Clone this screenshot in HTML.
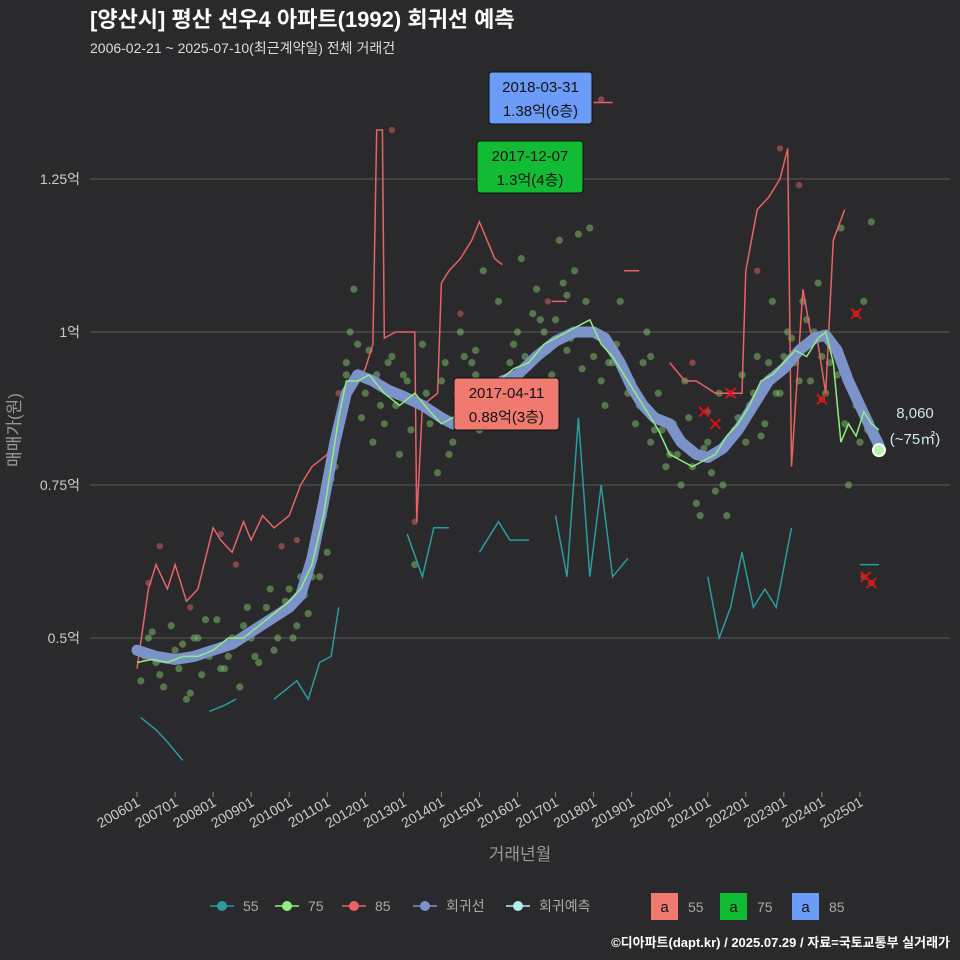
<!DOCTYPE html>
<html><head><meta charset="utf-8">
<style>
html,body{margin:0;padding:0;background:#2a292b;}
svg{display:block;font-family:"Liberation Sans","Noto Sans CJK KR",sans-serif;}
</style></head>
<body>
<svg id="chart" width="960" height="960" viewBox="0 0 960 960">
<rect width="960" height="960" fill="#2a292b"/>
<text x="90" y="27" fill="#ffffff" font-size="22" font-weight="bold">[양산시] 평산 선우4 아파트(1992) 회귀선 예측</text>
<text x="90" y="53" fill="#dddddd" font-size="14">2006-02-21 ~ 2025-07-10(최근계약일) 전체 거래건</text>
<g id="grid"></g>
<g id="yaxis"></g>
<g id="xaxis"></g>
<g id="plot"></g>
<text x="20" y="430" fill="#999" font-size="17" transform="rotate(-90 20 430)" text-anchor="middle">매매가(원)</text>
<text x="520" y="860" fill="#999" font-size="17" text-anchor="middle">거래년월</text>
<g id="legend"></g>
<text x="950" y="947" fill="#ffffff" font-size="13" font-weight="bold" text-anchor="end">©디아파트(dapt.kr) / 2025.07.29 / 자료=국토교통부 실거래가</text>
</svg>
<script>
const yTicks=[0.5,0.75,1,1.25];
const yTickLabels=["0.5억","0.75억","1억","1.25억"];
const xTickYears=[2006,2007,2008,2009,2010,2011,2012,2013,2014,2015,2016,2017,2018,2019,2020,2021,2022,2023,2024,2025];
const xTickLabels=["200601","200701","200801","200901","201001","201101","201201","201301","201401","201501","201601","201701","201801","201901","202001","202101","202201","202301","202401","202501"];
const regT=[2006,2006.5,2007,2007.5,2008,2008.5,2009,2009.5,2010,2010.3,2010.6,2010.9,2011.2,2011.5,2011.8,2012.2,2012.6,2013,2013.5,2014,2014.3,2014.7,2015.2,2015.6,2016,2016.5,2017,2017.5,2018,2018.3,2018.7,2019,2019.3,2019.6,2020,2020.3,2020.7,2021,2021.4,2021.8,2022.2,2022.6,2023,2023.4,2023.8,2024.1,2024.4,2024.7,2025,2025.3,2025.5];
const regV=[0.48,0.47,0.465,0.47,0.48,0.49,0.51,0.53,0.55,0.57,0.63,0.72,0.82,0.9,0.93,0.92,0.905,0.895,0.88,0.86,0.85,0.87,0.9,0.92,0.93,0.96,0.985,1.0,1.0,0.99,0.95,0.91,0.88,0.86,0.85,0.82,0.8,0.795,0.81,0.84,0.88,0.92,0.94,0.97,0.99,0.995,0.97,0.92,0.88,0.84,0.815];
const s75T=[2006,2006.4,2006.8,2007.2,2007.6,2008,2008.4,2008.8,2009.2,2009.6,2010,2010.3,2010.6,2010.9,2011.1,2011.3,2011.5,2011.8,2012.1,2012.5,2012.9,2013.3,2013.7,2014,2014.3,2014.7,2015.1,2015.5,2015.9,2016.3,2016.7,2017,2017.3,2017.6,2017.9,2018.2,2018.5,2018.8,2019.1,2019.4,2019.7,2020,2020.3,2020.6,2020.9,2021.2,2021.5,2021.8,2022.1,2022.4,2022.7,2023,2023.3,2023.6,2023.9,2024.1,2024.3,2024.5,2024.7,2024.9,2025.1,2025.3,2025.5];
const s75V=[0.46,0.465,0.46,0.47,0.47,0.48,0.5,0.5,0.52,0.54,0.56,0.58,0.62,0.7,0.78,0.86,0.92,0.92,0.93,0.9,0.88,0.9,0.87,0.85,0.86,0.89,0.91,0.92,0.94,0.95,0.98,0.99,1.0,1.01,1.02,0.98,0.96,0.93,0.9,0.87,0.84,0.8,0.79,0.78,0.79,0.8,0.83,0.85,0.88,0.92,0.93,0.95,0.97,0.96,0.99,1.0,0.95,0.82,0.85,0.83,0.87,0.85,0.84];
const s85T=[2006,2006.3,2006.5,2006.8,2007,2007.3,2007.6,2008,2008.2,2008.5,2008.8,2009,2009.3,2009.6,2010,2010.3,2010.6,2011,2011.3,2011.6,2012,2012.2,2012.3,2012.45,2012.5,2012.8,2013,2013.3,2013.35,2013.5,2013.9,2014,2014.2,2014.5,2014.8,2015,2015.2,2015.4,2015.6,null,2016.9,2017.3,null,2018.0,2018.5,null,2018.8,2019.2,null,2020,2020.4,2020.7,2021.2,2021.6,2021.9,2022,2022.3,2022.6,2022.9,2023.1,2023.2,2023.5,2023.7,2023.9,2024.1,2024.3,2024.6];
const s85V=[0.45,0.58,0.62,0.58,0.62,0.56,0.58,0.68,0.66,0.64,0.69,0.66,0.7,0.68,0.7,0.75,0.78,0.8,0.85,0.9,0.94,0.98,1.33,1.33,0.99,1.0,1.0,1.0,0.69,0.88,0.9,1.08,1.1,1.12,1.15,1.18,1.15,1.12,1.11,null,1.05,1.05,null,1.375,1.375,null,1.1,1.1,null,0.95,0.92,0.92,0.9,0.9,0.9,1.1,1.2,1.22,1.25,1.3,0.78,1.07,1.0,0.98,0.9,1.15,1.2];
const s55T=[2006.1,2006.5,2006.8,2007.2,null,2007.9,2008.3,2008.6,null,2009.6,2010.2,2010.5,2010.8,2011.1,2011.3,null,2013.1,2013.5,2013.8,2014.2,null,2015,2015.5,2015.8,2016.3,null,2017,2017.3,2017.6,2017.9,2018.2,2018.5,2018.9,null,2021,2021.3,2021.6,2021.9,2022.2,2022.5,2022.8,2023.2,null,2025.0,2025.5];
const s55V=[0.37,0.35,0.33,0.3,null,0.38,0.39,0.4,null,0.4,0.43,0.4,0.46,0.47,0.55,null,0.67,0.6,0.68,0.68,null,0.64,0.69,0.66,0.66,null,0.7,0.6,0.86,0.6,0.75,0.6,0.63,null,0.6,0.5,0.55,0.64,0.55,0.58,0.55,0.68,null,0.62,0.62];
const ptT=[2006.1,2006.3,2006.5,2006.7,2006.9,2007.1,2007.3,2007.5,2007.7,2007.9,2008.1,2008.3,2008.5,2008.7,2008.9,2009.1,2009.3,2009.5,2009.7,2009.9,2010.1,2010.3,2010.5,2010.7,2010.9,2011.1,2011.3,2011.5,2011.7,2011.9,2012.1,2012.3,2012.5,2012.7,2012.9,2013.1,2013.3,2013.5,2013.7,2013.9,2014.1,2014.3,2014.5,2014.7,2014.9,2015.1,2015.3,2015.5,2015.7,2015.9,2016.1,2016.3,2016.5,2016.7,2016.9,2017.1,2017.3,2017.5,2017.7,2017.9,2018.1,2018.3,2018.5,2018.7,2018.9,2019.1,2019.3,2019.5,2019.7,2019.9,2020.1,2020.3,2020.5,2020.7,2020.9,2021.1,2021.3,2021.5,2021.7,2021.9,2022.1,2022.3,2022.5,2022.7,2022.9,2023.1,2023.3,2023.5,2023.7,2023.9,2024.1,2024.3,2024.5,2024.7,2024.9,2025.1,2025.3,2006.4,2007,2007.6,2008.2,2008.8,2009.4,2010,2010.6,2011.2,2011.8,2012.4,2013,2013.6,2014.2,2014.8,2015.4,2016,2016.6,2017.2,2017.8,2018.4,2019,2019.6,2020.2,2020.8,2021.4,2022,2022.6,2023.2,2023.8,2024.4,2025,
2006.2,2006.6,2007.2,2007.8,2008.4,2009.0,2009.6,2010.2,2010.8,2011.0,2011.4,2011.6,2012.0,2012.2,2012.6,2012.8,2013.2,2013.8,2014.0,2014.4,2014.6,2015.0,2015.6,2015.8,2016.2,2016.4,2016.8,2017.0,2017.4,2017.6,2018.0,2018.2,2018.6,2019.2,2019.4,2019.8,2020.0,2020.4,2020.6,2021.0,2021.2,2021.8,2022.2,2022.4,2022.8,2023.0,2023.4,2023.6,2024.0,2024.2,2024.6,2025.2,2007.4,2009.2,2010.4,2011.5,2014.9,2016.1,2017.3,2019.5];
const ptV=[0.43,0.5,0.46,0.42,0.52,0.45,0.4,0.5,0.44,0.47,0.53,0.45,0.5,0.42,0.55,0.47,0.52,0.58,0.5,0.56,0.5,0.6,0.54,0.66,0.7,0.76,0.84,0.95,1.07,0.86,0.97,0.93,0.85,0.96,0.8,0.92,0.62,0.98,0.85,0.77,0.95,0.82,1.0,0.87,0.93,1.1,0.85,1.05,0.9,0.98,1.12,0.9,1.07,1.0,0.93,1.15,0.97,1.1,0.94,1.17,1.0,0.88,0.95,1.05,0.9,0.85,0.95,0.82,0.9,0.78,0.85,0.75,0.86,0.72,0.81,0.77,0.9,0.7,0.84,0.93,0.88,0.96,0.85,1.05,0.9,1.0,0.95,1.05,0.92,1.08,0.9,0.97,1.17,0.75,0.88,1.05,1.18,0.51,0.48,0.5,0.45,0.52,0.55,0.58,0.6,0.78,0.98,0.88,0.93,0.9,0.8,0.95,0.92,1.0,1.02,1.08,1.05,0.95,0.92,0.84,0.8,0.7,0.75,0.82,0.95,0.99,1.0,0.93,0.82,
0.47,0.44,0.49,0.53,0.47,0.5,0.48,0.52,0.6,0.64,0.88,1.0,0.9,0.82,0.95,0.88,0.84,0.87,0.92,0.9,0.96,0.84,0.88,0.95,0.96,1.03,0.97,1.02,0.99,1.16,0.96,0.92,0.98,0.88,1.0,0.84,0.8,0.92,0.78,0.82,0.74,0.86,0.9,0.83,0.9,0.96,0.92,1.02,0.96,0.95,0.85,0.84,0.41,0.46,0.57,0.93,0.97,0.94,1.06,0.96];
const redPtT=[2006.3,2006.6,2007.4,2008.2,2008.6,2009.8,2010.2,2011.3,2012.7,2013.3,2014.5,2015.3,2016.8,2018.2,2020.6,2021.0,2021.6,2022.3,2022.9,2023.4,2024.0,2024.9,2025.1,2025.3];
const redPtV=[0.59,0.65,0.55,0.67,0.62,0.65,0.66,0.9,1.33,0.69,1.03,1.24,1.05,1.38,0.95,0.87,0.9,1.1,1.3,1.24,0.89,1.03,0.6,0.59];
const crossT=[2020.9,2021.2,2021.6,2024.0,2024.9,2025.15,2025.3];
const crossV=[0.87,0.85,0.9,0.89,1.03,0.6,0.59];

const NS="http://www.w3.org/2000/svg";
const X=t=>137+(t-2006)*38.05;
const Y=v=>332-(v-1)*612;
function mk(tag,attrs,parent){const e=document.createElementNS(NS,tag);for(const k in attrs)e.setAttribute(k,attrs[k]);parent.appendChild(e);return e;}
const grid=document.getElementById('grid'),yaxis=document.getElementById('yaxis'),xaxis=document.getElementById('xaxis'),plot=document.getElementById('plot'),legend=document.getElementById('legend');
yTicks.forEach((v,i)=>{
 const l=mk('line',{x1:90,x2:950,y1:Y(v),y2:Y(v),stroke:'#5a5a5a','stroke-width':1},grid);
 
 
 const t=mk('text',{x:80,y:Y(v)+5,fill:'#cccccc','font-size':14,'text-anchor':'end'},yaxis);
 t.textContent=yTickLabels[i];
 
 
});
xTickYears.forEach((yr,i)=>{
 const x=X(yr);
 const tk=mk('line',{x1:x,x2:x,y1:792,y2:797,stroke:'#888'},xaxis);
 
 
 const t=mk('text',{x:x+4,y:805,fill:'#cccccc','font-size':14,'text-anchor':'end',transform:`rotate(-30 ${x+4} 805)`},xaxis);
 t.textContent=xTickLabels[i];
 
 
});
function pathOf(T,V){let d='',pen=false;for(let i=0;i<T.length;i++){if(T[i]===null){pen=false;continue;}d+=(pen?'L':'M')+X(T[i]).toFixed(1)+','+Y(V[i]).toFixed(1);pen=true;}return d;}
ptT.forEach((t,i)=>{const c=mk('circle',{cx:X(t),cy:Y(ptV[i]),r:3.2,fill:'#8fd47a','fill-opacity':0.45,stroke:'#5c8a4f','stroke-opacity':0.6},plot);
 
 });
redPtT.forEach((t,i)=>{const c=mk('circle',{cx:X(t),cy:Y(redPtV[i]),r:3.2,fill:'#e06666','fill-opacity':0.5},plot);
 
 });
const p55=mk('path',{d:pathOf(s55T,s55V),fill:'none',stroke:'#2a9d9d','stroke-width':1.5},plot);


const p85=mk('path',{d:pathOf(s85T,s85V),fill:'none',stroke:'#e86464','stroke-width':1.5},plot);


const preg=mk('path',{d:pathOf(regT,regV),fill:'none',stroke:'#7c93c9','stroke-width':11,'stroke-linecap':'round','stroke-linejoin':'round'},plot);


const p75=mk('path',{d:pathOf(s75T,s75V),fill:'none',stroke:'#90ee80','stroke-width':1.5},plot);


crossT.forEach((t,i)=>{const x=X(t),y=Y(crossV[i]);const g=mk('path',{d:`M${x-5},${y-5}L${x+5},${y+5}M${x-5},${y+5}L${x+5},${y-5}`,stroke:'#dd1111','stroke-width':2},plot);
 
 });
const endPt=mk('circle',{cx:X(2025.5),cy:Y(0.807),r:6,fill:'#b9f3a9',stroke:'#fff','stroke-width':2},plot);


const pl1=mk('text',{x:915,y:418,fill:'#c9e8ec','font-size':15,'text-anchor':'middle'},plot);pl1.textContent='8,060';


const pl2=mk('text',{x:915,y:444,fill:'#c9e8ec','font-size':15,'text-anchor':'middle'},plot);pl2.textContent='(~75㎡)';


const notes=[[489,72,103,52,'#6b9cf8','2018-03-31','1.38억(6층)'],[477,141,106,52,'#11bb33','2017-12-07','1.3억(4층)'],[454,378,105,52,'#f07a70','2017-04-11','0.88억(3층)']];
notes.forEach(n=>{const r=mk('rect',{x:n[0],y:n[1],width:n[2],height:n[3],rx:3,fill:n[4],stroke:'#111'},plot);
 
 
 const a=mk('text',{x:n[0]+n[2]/2,y:n[1]+20,fill:'#111','font-size':15,'text-anchor':'middle'},plot);a.textContent=n[5];
 
 
 const b=mk('text',{x:n[0]+n[2]/2,y:n[1]+44,fill:'#111','font-size':15,'text-anchor':'middle'},plot);b.textContent=n[6];
 
 });
const leg=[[222,'#2a9d9d','55'],[287,'#90ee80','75'],[354,'#e86464','85'],[425,'#7c93c9','회귀선'],[518,'#aef0ee','회귀예측']];
leg.forEach(l=>{const ln=mk('line',{x1:l[0]-12,x2:l[0]+12,y1:906,y2:906,stroke:l[1],'stroke-width':1.5},legend);
 
 
 const c=mk('circle',{cx:l[0],cy:906,r:5,fill:l[1]},legend);
 
 
 const t=mk('text',{x:l[0]+21,y:911,fill:'#aaa','font-size':14},legend);t.textContent=l[2];
 
 });
const leg2=[[651,'#f07a70','55'],[720,'#11bb33','75'],[792,'#6b9cf8','85']];
leg2.forEach(l=>{const r=mk('rect',{x:l[0],y:893,width:27,height:27,fill:l[1]},legend);
 
 
 const a=mk('text',{x:l[0]+13.5,y:912,fill:'#111','font-size':15,'text-anchor':'middle'},legend);a.textContent='a';
 
 
 const t=mk('text',{x:l[0]+37,y:912,fill:'#aaa','font-size':14},legend);t.textContent=l[2];
 
 });
</script>
</body></html>
